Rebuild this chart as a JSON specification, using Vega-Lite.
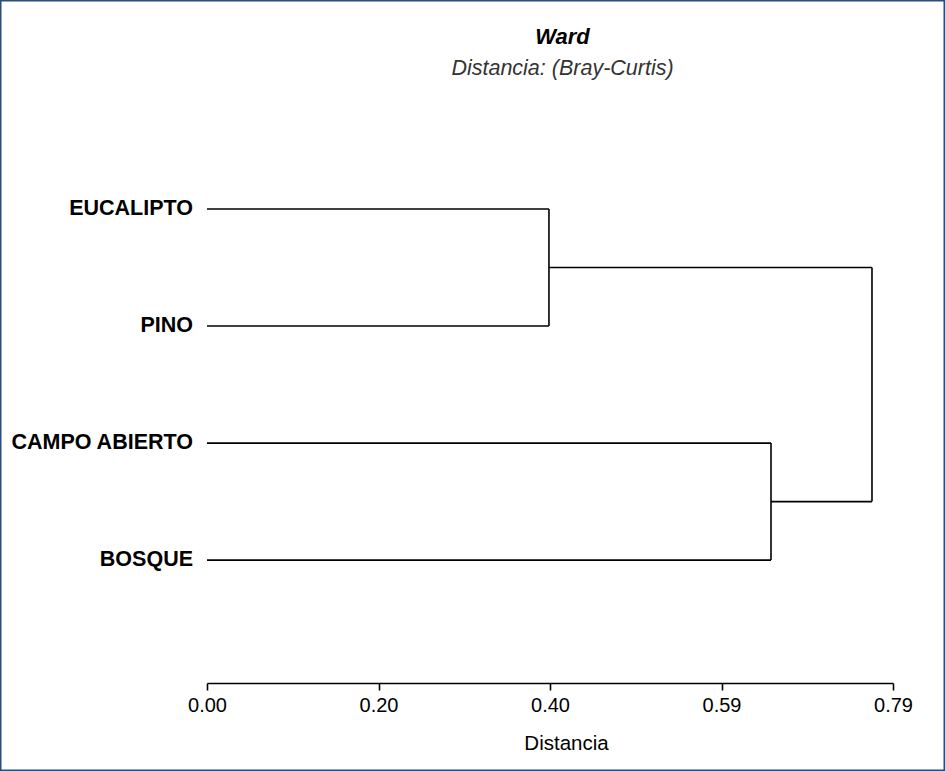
{
  "$schema": "https://vega.github.io/schema/vega-lite/v6.json",
  "width": 945,
  "height": 771,
  "padding": 0,
  "autosize": {"type": "none"},
  "background": "white",
  "config": {
    "view": {"stroke": "#2b4c7e", "strokeWidth": 3},
    "font": "Liberation Sans"
  },
  "title": {
    "text": "Ward",
    "subtitle": "Distancia: (Bray-Curtis)",
    "font": "Liberation Sans",
    "fontSize": 22,
    "fontStyle": "italic",
    "fontWeight": "bold",
    "color": "#000000",
    "subtitleFont": "Liberation Sans",
    "subtitleFontSize": 21.5,
    "subtitleFontStyle": "italic",
    "subtitleColor": "#333333",
    "subtitlePadding": 9,
    "anchor": "middle",
    "dx": 90,
    "offset": -80
  },
  "datasets": {
    "segments": [
      {"x": 0, "x2": 0.3938, "y": 1, "y2": 1},
      {"x": 0, "x2": 0.3938, "y": 2, "y2": 2},
      {"x": 0.3938, "x2": 0.3938, "y": 1, "y2": 2},
      {"x": 0, "x2": 0.6495, "y": 3, "y2": 3},
      {"x": 0, "x2": 0.6495, "y": 4, "y2": 4},
      {"x": 0.6495, "x2": 0.6495, "y": 3, "y2": 4},
      {"x": 0.3938, "x2": 0.7658, "y": 1.5, "y2": 1.5},
      {"x": 0.6495, "x2": 0.7658, "y": 3.5, "y2": 3.5},
      {"x": 0.7658, "x2": 0.7658, "y": 1.5, "y2": 3.5}
    ],
    "leaves": [
      {"name": "EUCALIPTO", "dist": 0, "pos": 1},
      {"name": "PINO", "dist": 0, "pos": 2},
      {"name": "CAMPO ABIERTO", "dist": 0, "pos": 3},
      {"name": "BOSQUE", "dist": 0, "pos": 4}
    ]
  },
  "layer": [
    {
      "data": {"name": "segments"},
      "mark": {"type": "rule", "color": "#000000", "strokeWidth": 1.6},
      "encoding": {
        "x": {
          "field": "x",
          "type": "quantitative",
          "scale": {"domain": [0, 0.79], "range": [207, 893], "nice": false, "zero": false},
          "axis": {
            "orient": "bottom",
            "offset": -88,
            "values": [0, 0.1975, 0.395, 0.5925, 0.79],
            "format": ".2f",
            "grid": false,
            "domainColor": "#000000",
            "domainWidth": 1.6,
            "tickColor": "#000000",
            "tickWidth": 1.6,
            "tickSize": 7,
            "labelFont": "Liberation Sans",
            "labelFontSize": 20,
            "labelColor": "#000000",
            "labelPadding": 5,
            "labelFlush": false,
            "labelOverlap": false,
            "title": "Distancia",
            "titleFont": "Liberation Sans",
            "titleFontSize": 20.5,
            "titleFontWeight": "normal",
            "titleColor": "#000000",
            "titlePadding": 18,
            "titleX": 566
          }
        },
        "x2": {"field": "x2"},
        "y": {
          "field": "y",
          "type": "quantitative",
          "scale": {"domain": [0, 5.05], "range": [92, 683], "nice": false, "zero": false},
          "axis": null
        },
        "y2": {"field": "y2"}
      }
    },
    {
      "data": {"name": "leaves"},
      "mark": {
        "type": "text",
        "align": "right",
        "baseline": "middle",
        "dx": -14,
        "font": "Liberation Sans",
        "fontSize": 21.5,
        "fontWeight": "bold",
        "color": "#000000"
      },
      "encoding": {
        "x": {"field": "dist", "type": "quantitative"},
        "y": {"field": "pos", "type": "quantitative"},
        "text": {"field": "name"}
      }
    }
  ]
}
